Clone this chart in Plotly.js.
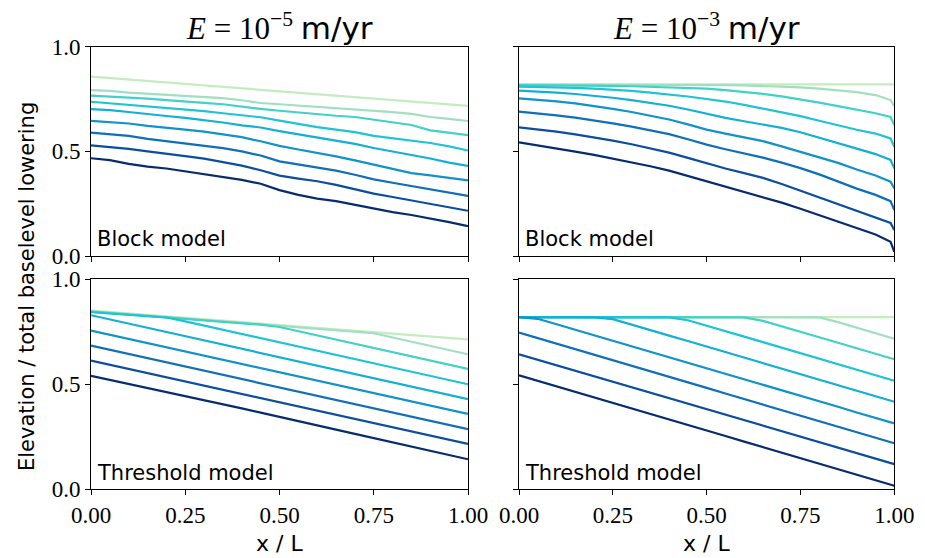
<!DOCTYPE html>
<html><head><meta charset="utf-8">
<script src="https://cdn.plot.ly/plotly-3.0.1.min.js"></script>
<style>html,body{margin:0;padding:0;background:#fff}#chart{width:925px;height:558px}</style>
</head><body><div id="chart"></div>
<script>
// x positions (x / L)
const xGrid = [0,0.05,0.1,0.15,0.2,0.25,0.3,0.35,0.4,0.45,0.5,0.55,0.6,0.65,0.7,0.75,0.8,0.85,0.9,0.95,1.0];
const xGridFast = [0,0.05,0.1,0.15,0.2,0.25,0.3,0.35,0.4,0.45,0.5,0.55,0.6,0.65,0.7,0.75,0.8,0.85,0.9,0.95,0.99,1.0];

// Block model, E = 1e-5 m/yr
const blockSlow = [
  [0.857,0.850,0.844,0.836,0.829,0.822,0.816,0.808,0.801,0.794,0.786,0.781,0.773,0.766,0.759,0.753,0.745,0.738,0.732,0.724,0.717],
  [0.793,0.789,0.781,0.775,0.770,0.766,0.760,0.754,0.744,0.731,0.725,0.719,0.713,0.708,0.700,0.694,0.687,0.679,0.664,0.655,0.645],
  [0.766,0.762,0.757,0.752,0.745,0.737,0.732,0.725,0.713,0.703,0.694,0.685,0.677,0.670,0.664,0.652,0.640,0.626,0.600,0.590,0.577],
  [0.737,0.730,0.722,0.714,0.707,0.699,0.692,0.682,0.674,0.663,0.647,0.630,0.616,0.604,0.592,0.574,0.563,0.554,0.540,0.524,0.504],
  [0.702,0.697,0.688,0.677,0.669,0.660,0.650,0.638,0.624,0.614,0.597,0.582,0.568,0.550,0.536,0.516,0.500,0.482,0.466,0.446,0.431],
  [0.646,0.641,0.633,0.622,0.614,0.604,0.594,0.582,0.568,0.548,0.526,0.509,0.494,0.476,0.457,0.437,0.418,0.396,0.385,0.373,0.361],
  [0.589,0.582,0.574,0.560,0.549,0.536,0.526,0.515,0.500,0.480,0.452,0.438,0.425,0.408,0.388,0.366,0.350,0.334,0.318,0.300,0.287],
  [0.529,0.522,0.512,0.500,0.490,0.477,0.465,0.450,0.432,0.410,0.384,0.370,0.357,0.340,0.318,0.298,0.282,0.265,0.250,0.230,0.216],
  [0.467,0.458,0.440,0.427,0.418,0.405,0.392,0.378,0.364,0.345,0.315,0.292,0.274,0.262,0.245,0.225,0.210,0.196,0.180,0.162,0.143]
];

// Block model, E = 1e-3 m/yr
const blockFast = [
  [0.820,0.820,0.820,0.820,0.820,0.820,0.820,0.820,0.820,0.820,0.820,0.820,0.820,0.820,0.820,0.820,0.820,0.820,0.820,0.820,0.820,0.820],
  [0.819,0.819,0.819,0.819,0.819,0.818,0.818,0.818,0.817,0.817,0.816,0.816,0.815,0.813,0.810,0.806,0.800,0.793,0.783,0.769,0.745,0.717],
  [0.816,0.816,0.815,0.815,0.814,0.813,0.811,0.809,0.807,0.804,0.800,0.793,0.785,0.775,0.763,0.749,0.733,0.716,0.699,0.682,0.664,0.626],
  [0.809,0.808,0.806,0.803,0.800,0.795,0.789,0.781,0.772,0.762,0.750,0.738,0.722,0.705,0.687,0.668,0.646,0.624,0.603,0.585,0.562,0.522],
  [0.790,0.786,0.781,0.774,0.766,0.756,0.745,0.732,0.718,0.700,0.679,0.660,0.644,0.629,0.612,0.591,0.566,0.541,0.513,0.487,0.459,0.419],
  [0.753,0.747,0.739,0.729,0.717,0.703,0.688,0.671,0.652,0.629,0.604,0.585,0.566,0.549,0.524,0.498,0.472,0.445,0.413,0.385,0.355,0.323],
  [0.690,0.682,0.672,0.661,0.648,0.634,0.618,0.601,0.582,0.558,0.532,0.510,0.490,0.470,0.446,0.420,0.390,0.355,0.322,0.292,0.262,0.220],
  [0.615,0.605,0.594,0.581,0.567,0.551,0.534,0.515,0.494,0.469,0.442,0.418,0.396,0.373,0.344,0.312,0.280,0.248,0.216,0.186,0.158,0.124],
  [0.543,0.529,0.514,0.499,0.483,0.466,0.448,0.429,0.408,0.383,0.355,0.330,0.305,0.281,0.255,0.226,0.196,0.163,0.133,0.103,0.068,0.020]
];

// Threshold model, E = 1e-5 m/yr
const thresholdSlow = [
  [0.851,0.844,0.837,0.830,0.824,0.817,0.810,0.803,0.796,0.789,0.783,0.776,0.769,0.762,0.755,0.748,0.741,0.735,0.728,0.721,0.714],
  [0.848,0.841,0.834,0.827,0.821,0.814,0.807,0.800,0.793,0.786,0.780,0.773,0.766,0.759,0.752,0.743,0.723,0.703,0.683,0.663,0.643],
  [0.846,0.839,0.832,0.825,0.819,0.812,0.805,0.798,0.791,0.784,0.773,0.753,0.733,0.713,0.693,0.673,0.653,0.633,0.613,0.593,0.573],
  [0.843,0.836,0.829,0.822,0.818,0.800,0.780,0.760,0.740,0.720,0.700,0.680,0.660,0.640,0.620,0.600,0.580,0.560,0.540,0.520,0.500],
  [0.829,0.809,0.789,0.769,0.749,0.729,0.709,0.689,0.669,0.649,0.629,0.609,0.589,0.569,0.549,0.529,0.509,0.489,0.469,0.449,0.429],
  [0.756,0.736,0.716,0.697,0.677,0.657,0.637,0.617,0.597,0.577,0.557,0.538,0.518,0.498,0.478,0.458,0.438,0.418,0.399,0.379,0.359],
  [0.684,0.664,0.644,0.624,0.604,0.585,0.565,0.545,0.525,0.505,0.485,0.465,0.445,0.425,0.405,0.385,0.365,0.346,0.326,0.306,0.286],
  [0.613,0.593,0.573,0.553,0.534,0.514,0.494,0.474,0.454,0.434,0.414,0.395,0.375,0.355,0.335,0.315,0.295,0.275,0.256,0.236,0.216],
  [0.540,0.521,0.502,0.483,0.464,0.445,0.425,0.405,0.385,0.365,0.344,0.324,0.304,0.284,0.264,0.244,0.224,0.204,0.184,0.163,0.143]
];

// Threshold model, E = 1e-3 m/yr
const thresholdFast = [
  [0.820,0.820,0.820,0.820,0.820,0.820,0.820,0.820,0.820,0.820,0.820,0.820,0.820,0.820,0.820,0.820,0.820,0.820,0.820,0.820,0.820],
  [0.820,0.820,0.820,0.820,0.820,0.820,0.820,0.820,0.820,0.820,0.820,0.820,0.820,0.820,0.820,0.820,0.819,0.796,0.770,0.743,0.717],
  [0.820,0.820,0.820,0.820,0.820,0.820,0.820,0.820,0.820,0.820,0.820,0.820,0.819,0.802,0.777,0.750,0.724,0.698,0.672,0.645,0.619],
  [0.820,0.820,0.820,0.820,0.820,0.820,0.820,0.820,0.819,0.805,0.780,0.754,0.727,0.701,0.675,0.648,0.622,0.596,0.570,0.543,0.517],
  [0.820,0.820,0.820,0.820,0.819,0.810,0.785,0.758,0.732,0.706,0.680,0.653,0.627,0.601,0.575,0.548,0.522,0.496,0.470,0.443,0.417],
  [0.820,0.812,0.786,0.760,0.734,0.708,0.681,0.655,0.629,0.603,0.576,0.550,0.524,0.498,0.471,0.445,0.419,0.393,0.366,0.340,0.314],
  [0.746,0.720,0.693,0.667,0.641,0.614,0.588,0.562,0.535,0.509,0.483,0.456,0.430,0.404,0.377,0.351,0.325,0.298,0.272,0.245,0.219],
  [0.643,0.617,0.591,0.565,0.538,0.512,0.486,0.460,0.434,0.408,0.382,0.355,0.329,0.303,0.277,0.251,0.225,0.198,0.172,0.146,0.120],
  [0.543,0.517,0.490,0.464,0.438,0.411,0.385,0.359,0.332,0.306,0.280,0.254,0.227,0.201,0.175,0.148,0.122,0.096,0.069,0.043,0.017]
];

const lineColors = ['#c4ecbf','#a0dfc0','#42d1c7','#1ec3d5','#14afd7','#1092ca','#0f6fb9','#0b4d9f','#072b70'];
const yTickVals = [0,0.5,1.0];
const yTickText = ['0.0','0.5','1.0'];
const xTickVals = [0,0.25,0.5,0.75,1.0];
const xTickText = ['0.00','0.25','0.50','0.75','1.00'];
const panelTitles = ['<i>E</i> = 10<sup>−5</sup> <span style="font-family:\'DejaVu Sans\'">m/yr</span>',
                     '<i>E</i> = 10<sup>−3</sup> <span style="font-family:\'DejaVu Sans\'">m/yr</span>'];
const panelLabels = ['Block model','Block model','Threshold model','Threshold model'];

const panels = [
  {data: blockSlow, x: xGrid, xa: 'x', ya: 'y'},
  {data: blockFast, x: xGridFast, xa: 'x2', ya: 'y2'},
  {data: thresholdSlow, x: xGrid, xa: 'x3', ya: 'y3'},
  {data: thresholdFast, x: xGrid, xa: 'x4', ya: 'y4'}
];

const traces = [];
panels.forEach(p => {
  p.data.forEach((ys, i) => {
    traces.push({x: p.x, y: ys, xaxis: p.xa, yaxis: p.ya, type: 'scatter', mode: 'lines',
      line: {color: lineColors[i], width: 2.2}, showlegend: false, hoverinfo: 'skip'});
  });
});

const W = 925, H = 558;
const colL = [91/W, 468/W], colR = [519/W, 894.3/W];
const rowT = [1-256/H, 1-46.7/H], rowB = [1-489.3/H, 1-279.3/H];
const tickFont = {family: 'Liberation Serif, serif', size: 23, color: '#000'};

function xax(domain, anchor, labels) {
  return {domain, anchor, range: [0,1], tickvals: xTickVals, ticktext: xTickText,
    showticklabels: labels, ticks: 'outside', ticklen: 5, tickwidth: 1, tickcolor: '#000',
    showline: true, linecolor: '#000', linewidth: 1, mirror: true, showgrid: false, zeroline: false,
    tickfont: tickFont, fixedrange: true};
}
function yax(domain, anchor, labels) {
  return {domain, anchor, range: [0,1], tickvals: yTickVals, ticktext: yTickText,
    showticklabels: labels, ticks: 'outside', ticklen: 5, tickwidth: 1, tickcolor: '#000',
    showline: true, linecolor: '#000', linewidth: 1, mirror: true, showgrid: false, zeroline: false,
    tickfont: tickFont, fixedrange: true};
}

const sansFont = {family: 'DejaVu Sans, sans-serif', size: 21, color: '#000'};
const annotations = [];
[[colL, 0], [colR, 1]].forEach(([c, k]) => {
  annotations.push({xref: 'paper', yref: 'paper', x: (c[0]+c[1])/2, y: 1-27/H, text: panelTitles[k],
    showarrow: false, xanchor: 'center', yanchor: 'middle', font: {family: 'Liberation Serif, serif', size: 31, color: '#000'}});
  annotations.push({xref: 'paper', yref: 'paper', x: (c[0]+c[1])/2, y: 1-543/H, text: 'x / L',
    showarrow: false, xanchor: 'center', yanchor: 'middle', font: {family: 'DejaVu Sans, sans-serif', size: 22, color: '#000'}});
});
['x','x2','x3','x4'].forEach((xa, i) => {
  const ya = 'y' + xa.slice(1);
  annotations.push({xref: xa + ' domain', yref: ya + ' domain', x: 0.01, y: 0.012, text: panelLabels[i],
    showarrow: false, xanchor: 'left', yanchor: 'bottom', font: sansFont});
});
annotations.push({xref: 'paper', yref: 'paper', x: 27/W, y: 1-287/H, text: 'Elevation / total baselevel lowering',
  textangle: -90, showarrow: false, xanchor: 'center', yanchor: 'middle', font: {family: 'DejaVu Sans, sans-serif', size: 21, color: '#000'}});

const layout = {
  width: W, height: H, margin: {l: 0, r: 0, t: 0, b: 0},
  paper_bgcolor: '#fff', plot_bgcolor: '#fff', showlegend: false,
  xaxis: xax(colL, 'y', false), yaxis: yax(rowT, 'x', true),
  xaxis2: xax(colR, 'y2', false), yaxis2: yax(rowT, 'x2', false),
  xaxis3: xax(colL, 'y3', true), yaxis3: yax(rowB, 'x3', true),
  xaxis4: xax(colR, 'y4', true), yaxis4: yax(rowB, 'x4', false),
  annotations
};
Plotly.newPlot('chart', traces, layout, {displayModeBar: false, staticPlot: true});
</script></body></html>
